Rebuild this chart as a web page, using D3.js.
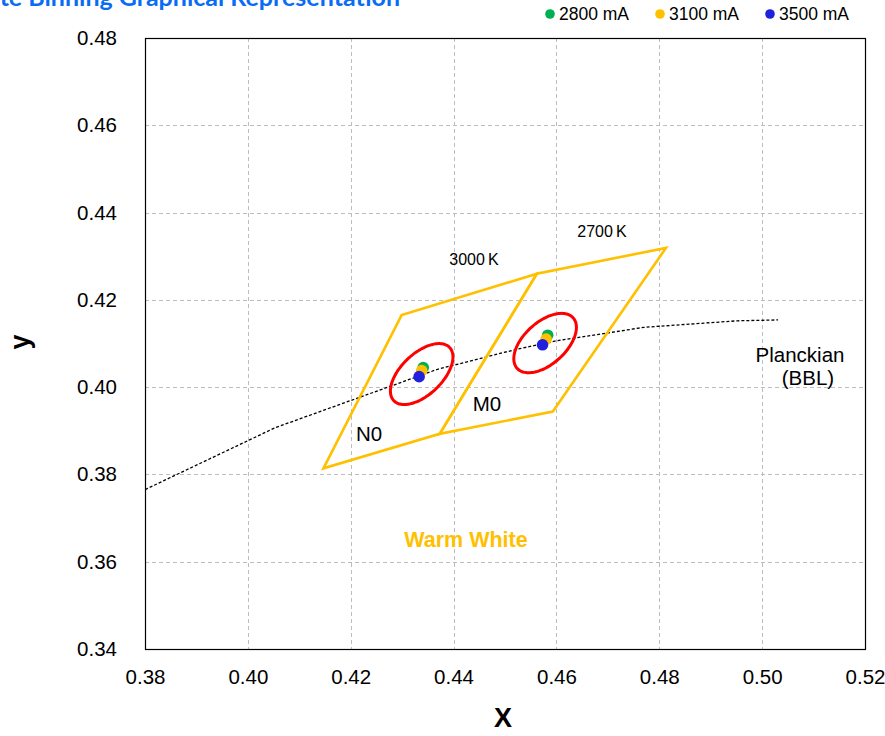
<!DOCTYPE html>
<html>
<head>
<meta charset="utf-8">
<script src="https://cdn.jsdelivr.net/npm/d3@7"></script>
<style>
  html, body { margin: 0; padding: 0; background: #fff; }
  svg { display: block; }
  text { font-family: "Liberation Sans", Arial, sans-serif; }
</style>
</head>
<body>
<svg id="chart" width="885" height="736"></svg>
<script>
// ANSI C78.377 quadrangles (CIE 1931 x, y corners)
const quad3000K = [[0.4147, 0.3814], [0.4299, 0.4165], [0.4562, 0.4260], [0.4373, 0.3893]];
const quad2700K = [[0.4373, 0.3893], [0.4562, 0.4260], [0.4813, 0.4319], [0.4593, 0.3944]];

// MacAdam ellipses: centre x, centre y, semi-axis a, semi-axis b, rotation (deg)
const ellipseCentersX = [0.4338, 0.4578];
const ellipseCentersY = [0.4030, 0.4101];
const ellipseA = [0.00820, 0.00800];
const ellipseB = [0.00430, 0.00440];
const ellipseTheta = [52, 51];

// Planckian locus (black body line)
const planckX = [0.3723, 0.3805, 0.4053, 0.4369, 0.4520, 0.4599, 0.4770, 0.4952, 0.5031];
const planckY = [0.3717, 0.3768, 0.3907, 0.4041, 0.4086, 0.4106, 0.4137, 0.4152, 0.4154];

// Measured chromaticity per drive current: [3000 K bin, 2700 K bin]
const seriesNames = ["2800 mA", "3100 mA", "3500 mA"];
const seriesColors = ["#00B050", "#FFC000", "#2020DD"];
const seriesX = [[0.4341, 0.4583], [0.4338, 0.4580], [0.4333, 0.4573]];
const seriesY = [[0.4045, 0.4119], [0.4038, 0.4110], [0.4024, 0.4097]];

const xTicks = [0.38, 0.40, 0.42, 0.44, 0.46, 0.48, 0.50, 0.52];
const yTicks = [0.34, 0.36, 0.38, 0.40, 0.42, 0.44, 0.46, 0.48];

const svg = d3.select("#chart");
const plotL = 145, plotR = 865, plotT = 38, plotB = 649;

const x = d3.scaleLinear().domain([0.38, 0.52]).range([plotL, plotR]);
const y = d3.scaleLinear().domain([0.34, 0.48]).range([plotB, plotT]);

// Title (runs off the top-left of the canvas)
svg.append("text")
  .attr("x", 400).attr("y", 6)
  .attr("text-anchor", "end")
  .style("font-family", "Lato, 'Open Sans', sans-serif")
  .style("font-weight", "bold")
  .style("font-size", "25px")
  .attr("fill", "#0A6CF5")
  .text("Warm White Binning Graphical Representation");

// Grid lines
const grid = svg.append("g").attr("stroke", "#BDBDBD").attr("stroke-width", 1).attr("stroke-dasharray", "4,3");
grid.selectAll(".gx").data(xTicks.slice(1, -1)).join("line")
  .attr("x1", d => Math.round(x(d)) + 0.5).attr("x2", d => Math.round(x(d)) + 0.5)
  .attr("y1", plotT).attr("y2", plotB);
grid.selectAll(".gy").data(yTicks.slice(1, -1)).join("line")
  .attr("y1", d => Math.round(y(d)) + 0.5).attr("y2", d => Math.round(y(d)) + 0.5)
  .attr("x1", plotL).attr("x2", plotR);

// Axes (labels only; the frame is drawn separately)
const xAxis = svg.append("g").attr("transform", `translate(0,${plotB})`)
  .call(d3.axisBottom(x).tickValues(xTicks).tickFormat(d3.format(".2f")).tickSize(0).tickPadding(20));
const yAxis = svg.append("g").attr("transform", `translate(${plotL},0)`)
  .call(d3.axisLeft(y).tickValues(yTicks).tickFormat(d3.format(".2f")).tickSize(0).tickPadding(28));
[xAxis, yAxis].forEach(a => {
  a.select(".domain").remove();
  a.selectAll("text").style("font-family", "'Liberation Sans', Arial, sans-serif").style("font-size", "20.5px").attr("fill", "#000");
});

// Plot frame
svg.append("rect")
  .attr("x", plotL + 0.5).attr("y", plotT + 0.5)
  .attr("width", plotR - plotL).attr("height", plotB - plotT)
  .attr("fill", "none").attr("stroke", "#000").attr("stroke-width", 1.2);

// Clip for marks inside plot
svg.append("clipPath").attr("id", "plotClip")
  .append("rect").attr("x", plotL).attr("y", plotT).attr("width", plotR - plotL).attr("height", plotB - plotT);
const plot = svg.append("g").attr("clip-path", "url(#plotClip)");

// Planckian locus
const planck = planckX.map((v, i) => [v, planckY[i]]);
plot.append("path")
  .datum(planck)
  .attr("d", d3.line().x(d => x(d[0])).y(d => y(d[1])))
  .attr("fill", "none").attr("stroke", "#000").attr("stroke-width", 1.3).attr("stroke-dasharray", "3,2");

// Quadrangles
[quad3000K, quad2700K].forEach(q => {
  plot.append("path")
    .datum(q)
    .attr("d", d3.line().x(d => x(d[0])).y(d => y(d[1])).curve(d3.curveLinearClosed))
    .attr("fill", "none").attr("stroke", "#FFC000").attr("stroke-width", 2.6).attr("stroke-linejoin", "miter");
});

// Ellipses, traced in chromaticity space
ellipseCentersX.forEach((cx, i) => {
  const cy = ellipseCentersY[i], a = ellipseA[i], b = ellipseB[i];
  const th = ellipseTheta[i] * Math.PI / 180;
  const pts = d3.range(0, 360, 3).map(deg => {
    const t = deg * Math.PI / 180;
    const ex = a * Math.cos(t), ey = b * Math.sin(t);
    return [cx + ex * Math.cos(th) - ey * Math.sin(th), cy + ex * Math.sin(th) + ey * Math.cos(th)];
  });
  plot.append("path")
    .datum(pts)
    .attr("d", d3.line().x(d => x(d[0])).y(d => y(d[1])).curve(d3.curveCardinalClosed))
    .attr("fill", "none").attr("stroke", "#FF0000").attr("stroke-width", 3);
});

// Measured points
seriesNames.forEach((name, s) => {
  plot.selectAll(".p" + s).data(seriesX[s].map((v, i) => [v, seriesY[s][i]])).join("circle")
    .attr("cx", d => x(d[0])).attr("cy", d => y(d[1])).attr("r", 5.8)
    .attr("fill", seriesColors[s]);
});

// Annotations
const note = (tx, ty, str, size, opts = {}) => svg.append("text")
  .attr("x", tx).attr("y", ty).attr("text-anchor", opts.anchor || "middle")
  .style("font-size", size + "px").style("font-weight", opts.bold ? "bold" : "normal")
  .attr("fill", opts.color || "#000").text(str);

note(474, 265, "3000\u2009K", 16);
note(602, 237, "2700\u2009K", 16);
note(369, 441, "N0", 20.5);
note(487, 411, "M0", 20.5);
note(800, 362, "Planckian", 20.5);
note(808, 385, "(BBL)", 20.5);
note(466, 547, "Warm White", 21.5, { bold: true, color: "#FFC000" });

// Axis titles
note(503, 727, "X", 27, { bold: true });
svg.append("text")
  .attr("transform", "translate(29,342) rotate(-90)")
  .attr("text-anchor", "middle")
  .style("font-size", "27px").style("font-weight", "bold")
  .text("y");

// Legend
const legendX = [550, 660, 770];
const legend = svg.append("g");
seriesNames.forEach((name, i) => {
  legend.append("circle").attr("cx", legendX[i]).attr("cy", 14).attr("r", 4.8).attr("fill", seriesColors[i]);
  legend.append("text").attr("x", legendX[i] + 9).attr("y", 20)
    .style("font-size", "17.5px").attr("fill", "#000").text(name);
});
</script>
</body>
</html>
